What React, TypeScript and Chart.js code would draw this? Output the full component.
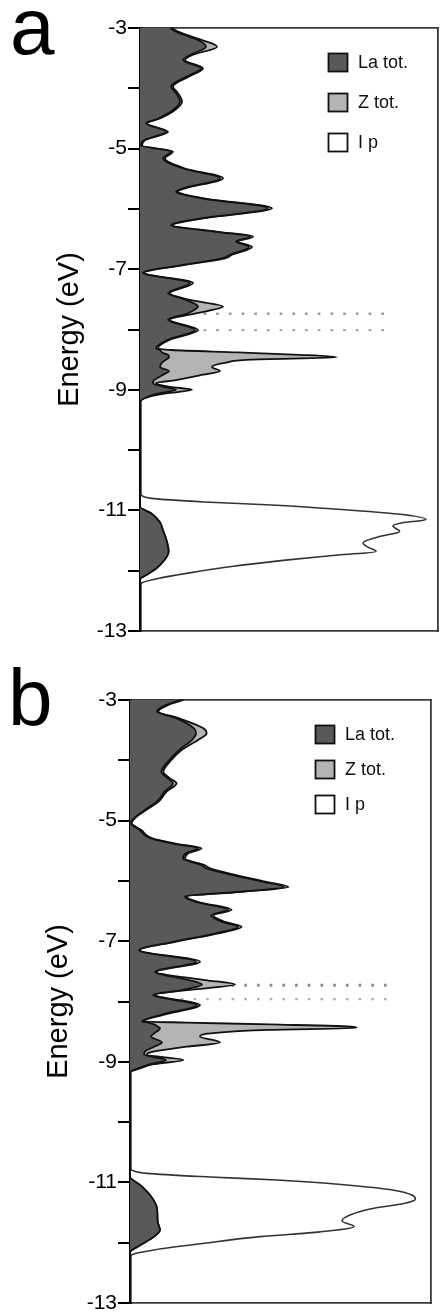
import React, { useEffect, useRef } from 'react';
import { Chart, registerables } from 'chart.js';

Chart.register(...registerables);

const FONT = '"Liberation Sans", Arial, Helvetica, sans-serif';

// ---- shared ----
const SERIES_NAMES = ['La tot.', 'Z tot.', 'I p'];
const SERIES_COLORS = ['#595959', '#b4b4b4', '#ffffff'];
const Y_MIN = -13;
const Y_MAX = -3;
const Y_TITLE = 'Energy (eV)';

// ---- panel a ----
const energiesA = [
  -3.0, -3.06, -3.2, -3.31, -3.45, -3.53, -3.67, -3.78, -3.97, -4.08,
  -4.22, -4.36, -4.5, -4.58, -4.72, -4.86, -4.95, -5.05, -5.16, -5.33,
  -5.49, -5.66, -5.71, -5.82, -5.99, -6.16, -6.27, -6.38, -6.46, -6.54,
  -6.63, -6.76, -6.82, -6.93, -7.06, -7.23, -7.4, -7.51, -7.62, -7.73,
  -7.84, -8.01, -8.17, -8.31, -8.34, -8.38, -8.42, -8.46, -8.5, -8.55,
  -8.62, -8.69, -8.76, -8.84, -8.89, -8.95, -9.0, -9.06, -9.12, -9.2,
  -10.9, -10.94, -11.05, -11.19, -11.33, -11.49, -11.68, -11.82, -11.96, -12.07,
  -12.14, -13.0,
];
const zA = [
  1.6, 1.9, 3.1, 3.85, 2.6, 2.25, 3.15, 2.6, 1.65, 1.9,
  2.1, 1.75, 1.0, 0.35, 1.4, 0.25, 0.1, 1.65, 1.25, 2.25,
  4.15, 2.25, 1.9, 3.1, 6.6, 3.1, 1.65, 3.9, 5.65, 4.9,
  5.6, 4.6, 4.25, 2.25, 0.2, 2.65, 1.5, 2.5, 4.15, 2.83,
  1.5, 2.9, 1.5, 0.9, 1.6, 4.9, 8.0, 9.83, 5.5, 4.3,
  3.6, 4.0, 3.0, 1.8, 0.8, 1.5, 2.6, 1.3, 0.4, 0,
  0, 0, 0.57, 0.98, 1.15, 1.32, 1.43, 1.23, 0.82, 0.32,
  0, 0,
];
const laA = [
  1.5, 1.8, 2.9, 3.3, 2.5, 2.15, 3.05, 2.5, 1.55, 1.8,
  2.0, 1.65, 0.92, 0.3, 1.3, 0.2, 0.05, 1.55, 1.15, 2.15,
  4.0, 2.15, 1.8, 3.0, 6.4, 3.0, 1.55, 3.8, 5.5, 4.8,
  5.45, 4.5, 4.1, 2.15, 0.15, 2.5, 1.4, 2.3, 2.9, 2.4,
  1.4, 2.75, 1.4, 0.8, 1.0, 1.1, 1.4, 1.45, 1.3, 1.1,
  1.0, 1.45, 1.1, 0.7, 0.65, 1.2, 1.8, 0.9, 0.35, 0,
  0, 0, 0.57, 0.98, 1.15, 1.32, 1.43, 1.23, 0.82, 0.32,
  0, 0,
];
const ipEnergiesA = [
  -10.74, -10.8, -10.86, -10.91, -10.98, -11.06, -11.15, -11.21, -11.26, -11.35,
  -11.44, -11.54, -11.61, -11.68, -11.74, -11.82, -11.93, -12.04, -12.13, -12.2,
  -12.24,
];
const ipA = [
  0, 0.57, 3.23, 6.57, 9.9, 12.9, 14.3, 13.05, 12.65, 12.98,
  11.9, 11.15, 11.4, 11.8, 9.9, 7.4, 4.57, 2.4, 0.9, 0.1,
  0,
];
const dotLevelsA = [-7.74, -8.01];

// ---- panel b ----
const energiesB = [
  -3.0, -3.08, -3.19, -3.3, -3.47, -3.55, -3.66, -3.83, -3.99, -4.19,
  -4.3, -4.38, -4.52, -4.69, -4.8, -4.96, -5.04, -5.16, -5.29, -5.38,
  -5.46, -5.54, -5.63, -5.74, -5.79, -5.9, -6.01, -6.1, -6.18, -6.26,
  -6.35, -6.48, -6.57, -6.68, -6.76, -6.87, -7.01, -7.15, -7.34, -7.51,
  -7.64, -7.72, -7.81, -7.89, -8.06, -8.22, -8.33, -8.35, -8.38, -8.42,
  -8.44, -8.47, -8.53, -8.58, -8.68, -8.75, -8.83, -8.88, -8.97, -9.04,
  -9.11, -9.17, -10.91, -11.04, -11.21, -11.43, -11.65, -11.79, -11.9, -12.04,
  -12.16, -13.0,
];
const zB = [
  2.67, 1.92, 1.42, 2.42, 3.67, 3.83, 3.42, 2.58, 2.08, 1.67,
  2.0, 2.33, 1.83, 1.42, 0.92, 0.25, 0.08, 0.58, 1.08, 2.25,
  3.58, 2.92, 2.75, 3.75, 4.0, 5.25, 6.75, 7.92, 5.58, 2.83,
  3.42, 5.08, 4.17, 4.75, 5.58, 4.42, 2.25, 0.5, 3.5, 1.33,
  3.67, 5.25, 2.83, 1.25, 3.5, 1.67, 0.67, 2.83, 7.0, 11.17,
  11.33, 7.0, 4.0, 3.5, 4.5, 2.83, 1.17, 0.83, 2.67, 1.17,
  0.5, 0, 0, 0.5, 1.0, 1.35, 1.38, 1.5, 1.2, 0.52,
  0, 0,
];
const laB = [
  2.55, 1.82, 1.35, 2.3, 3.2, 3.3, 3.1, 2.45, 1.98, 1.57,
  1.9, 2.15, 1.73, 1.32, 0.85, 0.2, 0.05, 0.5, 1.0, 2.15,
  3.4, 2.8, 2.65, 3.6, 3.8, 5.1, 6.6, 7.7, 5.45, 2.73,
  3.3, 4.9, 4.05, 4.6, 5.4, 4.3, 2.15, 0.45, 3.3, 1.25,
  2.9, 3.6, 2.6, 1.15, 3.35, 1.55, 0.6, 0.9, 1.2, 1.4,
  1.5, 1.45, 1.2, 1.05, 1.6, 1.2, 0.75, 0.7, 1.8, 1.0,
  0.4, 0, 0, 0.5, 1.0, 1.35, 1.38, 1.5, 1.2, 0.52,
  0, 0,
];
const ipEnergiesB = [
  -10.79, -10.85, -10.91, -10.96, -11.04, -11.13, -11.21, -11.28, -11.35, -11.43,
  -11.54, -11.64, -11.73, -11.82, -11.9, -12.01, -12.12, -12.19, -12.23,
];
const ipB = [
  0, 0.85, 4.0, 7.35, 10.7, 13.2, 14.1, 14.27, 13.7, 12.2,
  11.0, 10.6, 11.2, 9.5, 6.5, 3.7, 1.2, 0.15, 0,
];
const dotLevelsB = [-7.73, -7.96];

type Panel = {
  label: string;
  energies: number[];
  la: number[];
  z: number[];
  ipEnergies: number[];
  ip: number[];
  dotLevels: number[];
  dotEnd: number;
  dotColors: string[];
  dotWidths: number[];
  xMax: number;
  height: number;
  padding: { top: number; right: number; bottom: number; left: number };
  axisWidth: number;
  titlePad: number;
  labelX: number;
  labelY: number;
  legendX: number;
  legendY: number;
  legendGap: number;
};

const PANELS: Panel[] = [
  {
    label: 'a',
    energies: energiesA,
    la: laA,
    z: zA,
    ipEnergies: ipEnergiesA,
    ip: ipA,
    dotLevels: dotLevelsA,
    dotEnd: 12.35,
    dotColors: ['#9a9a9a', '#a6a6a6'],
    dotWidths: [2.6, 2.4],
    xMax: 14.9,
    height: 650,
    padding: { top: 28, right: 2, bottom: 19, left: 0 },
    axisWidth: 140,
    titlePad: 55,
    labelX: 10,
    labelY: 54,
    legendX: 328,
    legendY: 53,
    legendGap: 40,
  },
  {
    label: 'b',
    energies: energiesB,
    la: laB,
    z: zB,
    ipEnergies: ipEnergiesB,
    ip: ipB,
    dotLevels: dotLevelsB,
    dotEnd: 12.85,
    dotColors: ['#8a8a8a', '#b0b0b0'],
    dotWidths: [3, 2.4],
    xMax: 15.05,
    height: 662,
    padding: { top: 50, right: 9, bottom: 9, left: 0 },
    axisWidth: 130,
    titlePad: 44,
    labelX: 8,
    labelY: 75,
    legendX: 315,
    legendY: 75,
    legendGap: 35,
  },
];

function toPoints(es: number[], vs: number[]) {
  return es.map((e, i) => ({ x: vs[i], y: e }));
}

function makeDecor(p: Panel) {
  return {
    id: 'decor' + p.label,
    afterDraw(chart: any) {
      const ctx = chart.ctx as CanvasRenderingContext2D;
      ctx.save();
      ctx.fillStyle = '#000';
      ctx.textAlign = 'left';
      ctx.textBaseline = 'alphabetic';
      ctx.font = `80px ${FONT}`;
      ctx.fillText(p.label, p.labelX, p.labelY);
      ctx.font = `18px ${FONT}`;
      ctx.textBaseline = 'middle';
      SERIES_NAMES.forEach((name, i) => {
        const y = p.legendY + i * p.legendGap;
        ctx.fillStyle = SERIES_COLORS[i];
        ctx.fillRect(p.legendX, y, 20, 19);
        ctx.lineWidth = 1.8;
        ctx.strokeStyle = '#111';
        ctx.strokeRect(p.legendX + 0.5, y + 0.5, 19, 18);
        ctx.fillStyle = '#111';
        ctx.fillText(name, p.legendX + 30, y + 10);
      });
      ctx.restore();
    },
  };
}

function hiddenAxis(position: string) {
  const horizontal = position === 'top' || position === 'bottom';
  return {
    type: 'linear',
    position,
    display: true,
    ticks: { display: false },
    grid: { display: false, drawTicks: false },
    border: { display: true, color: '#3a3a3a', width: 1.8 },
    afterFit: (s: any) => {
      if (horizontal) s.height = 0;
      else s.width = 0;
      s.paddingLeft = 0;
      s.paddingRight = 0;
      s.paddingTop = 0;
      s.paddingBottom = 0;
    },
  };
}

function buildConfig(p: Panel): any {
  const dotted = p.dotLevels.map((lv, i) => ({
    label: '',
    data: [
      { x: 0, y: lv },
      { x: p.dotEnd, y: lv },
    ],
    borderColor: p.dotColors[i],
    borderWidth: p.dotWidths[i],
    borderDash: [2.6, 10.1],
    fill: false,
    tension: 0,
    cubicInterpolationMode: 'default',
    order: 4,
  }));
  return {
    type: 'line',
    data: {
      datasets: [
        {
          label: SERIES_NAMES[0],
          data: toPoints(p.energies, p.la),
          backgroundColor: SERIES_COLORS[0],
          borderColor: '#111',
          borderWidth: 1.8,
          fill: 'origin',
          order: 1,
        },
        {
          label: SERIES_NAMES[1],
          data: toPoints(p.energies, p.z),
          backgroundColor: SERIES_COLORS[1],
          borderColor: '#111',
          borderWidth: 1.8,
          fill: 'origin',
          order: 2,
        },
        {
          label: SERIES_NAMES[2],
          data: toPoints(p.ipEnergies, p.ip),
          backgroundColor: SERIES_COLORS[2],
          borderColor: '#333',
          borderWidth: 1.6,
          fill: 'origin',
          order: 3,
        },
        ...dotted,
      ],
    },
    options: {
      indexAxis: 'y',
      responsive: false,
      maintainAspectRatio: false,
      animation: false,
      events: [],
      elements: {
        point: { radius: 0, hoverRadius: 0 },
        line: { cubicInterpolationMode: 'monotone', tension: 0 },
      },
      layout: { padding: p.padding },
      plugins: {
        legend: { display: false },
        tooltip: { enabled: false },
        title: { display: false },
      },
      scales: {
        x: {
          ...hiddenAxis('bottom'),
          min: 0,
          max: p.xMax,
        },
        xTop: hiddenAxis('top'),
        yRight: hiddenAxis('right'),
        y: {
          type: 'linear',
          position: 'left',
          min: Y_MIN,
          max: Y_MAX,
          ticks: {
            stepSize: 1,
            autoSkip: false,
            padding: 1,
            color: '#000',
            font: { family: FONT, size: 21 },
            callback: (v: number) => {
              const r = Math.round(v);
              return Math.abs(r) % 2 === 1 ? String(r) : '';
            },
          },
          grid: {
            display: true,
            drawOnChartArea: false,
            drawTicks: true,
            tickLength: 12,
            color: '#000',
            lineWidth: 2,
          },
          border: { display: true, color: '#000', width: 2.6 },
          title: {
            display: true,
            text: Y_TITLE,
            color: '#000',
            font: { family: FONT, size: 29, lineHeight: 1 },
            padding: { top: p.titlePad, bottom: 0 },
          },
          afterFit: (s: any) => {
            s.width = p.axisWidth;
            s.paddingTop = 0;
            s.paddingBottom = 0;
          },
        },
      },
    },
    plugins: [makeDecor(p)],
  };
}

function PanelChart({ p, top }: { p: Panel; top: number }) {
  const ref = useRef<HTMLCanvasElement | null>(null);
  useEffect(() => {
    if (!ref.current) return;
    const chart = new Chart(ref.current, buildConfig(p));
    return () => chart.destroy();
  }, [p]);
  return (
    <canvas
      ref={ref}
      width={440}
      height={p.height}
      style={{ position: 'absolute', left: 0, top, width: 440, height: p.height, display: 'block' }}
    />
  );
}

export default function App() {
  return (
    <div style={{ position: 'absolute', left: 0, top: 0, width: 440, height: 1312, background: '#fff', overflow: 'hidden' }}>
      <PanelChart p={PANELS[0]} top={0} />
      <PanelChart p={PANELS[1]} top={650} />
    </div>
  );
}
